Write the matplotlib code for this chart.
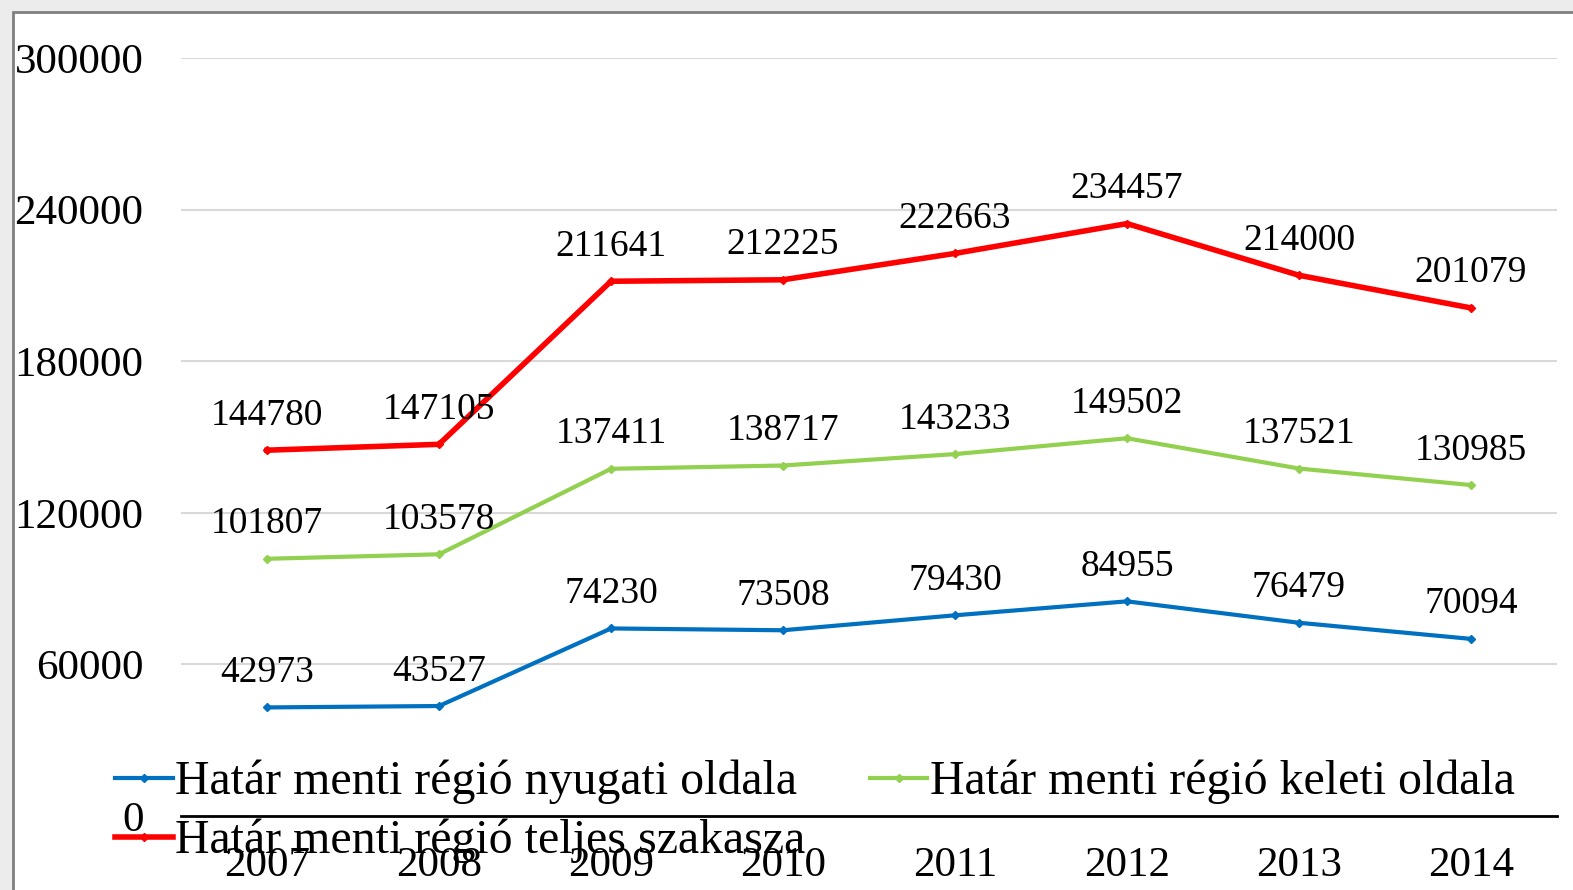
import matplotlib.pyplot as plt
from matplotlib.patches import Rectangle

plt.rcParams['font.family'] = ['Liberation Serif', 'DejaVu Serif']

# --- data ---
years = ['2007', '2008', '2009', '2010', '2011', '2012', '2013', '2014']
nyugati = [42973, 43527, 74230, 73508, 79430, 84955, 76479, 70094]
keleti = [101807, 103578, 137411, 138717, 143233, 149502, 137521, 130985]
teljes = [144780, 147105, 211641, 212225, 222663, 234457, 214000, 201079]

series_names = ['Határ menti régió nyugati oldala',
                'Határ menti régió keleti oldala',
                'Határ menti régió teljes szakasza']
series_values = [nyugati, keleti, teljes]
series_colors = ['#0070C0', '#92D050', '#FF0000']
series_widths = [3, 3, 4]
y_ticks = [0, 60000, 120000, 180000, 240000, 300000]

W, H = 1573, 890
fig = plt.figure(figsize=(W / 100, H / 100), dpi=100, facecolor='#ececec')

# white chart panel with grey frame on top/left
fig.patches.append(Rectangle((13 / W, -0.02), 1.1, 1 - 12 / H + 0.02,
                             transform=fig.transFigure, facecolor='white',
                             edgecolor='#808080', linewidth=2, zorder=-5))

ax = fig.add_axes([181 / W, 1 - 816 / H, (1557 - 181) / W, (816 - 58) / H])
ax.patch.set_visible(False)

x = list(range(len(years)))
for name, vals, col, lw in zip(series_names, series_values, series_colors, series_widths):
    ax.plot(x, vals, color=col, lw=lw, marker='D', markersize=4.5, label=name,
            solid_joinstyle='miter')
    for xi, v in zip(x, vals):
        ax.annotate(str(v), (xi, v), xytext=(0, 25), textcoords='offset points',
                    ha='center', va='center', fontsize=27)

ax.set_xlim(-0.5, len(years) - 0.5)
ax.set_ylim(0, 300000)
ax.set_yticks(y_ticks)
ax.set_yticklabels([str(t) for t in y_ticks])
ax.set_xticks(x)
ax.set_xticklabels(years)
ax.tick_params(axis='y', length=0, pad=27, labelsize=31)
ax.tick_params(axis='x', length=0, pad=22, labelsize=31)
ax.grid(axis='y', color='#d9d9d9', lw=1.5)
ax.set_axisbelow(True)
for s in ['left', 'top', 'right']:
    ax.spines[s].set_visible(False)
ax.spines['bottom'].set_color('black')
ax.spines['bottom'].set_linewidth(2)

handles, labels = ax.get_legend_handles_labels()
# order: row 1 -> nyugati, keleti ; row 2 -> teljes
order = [0, 2, 1]
leg = fig.legend([handles[i] for i in order], [labels[i] for i in order],
                 loc='upper left', bbox_to_anchor=(115 / W, 1 - 760 / H),
                 ncol=2, frameon=False, fontsize=34.5, borderpad=0,
                 handlelength=1.2, handletextpad=0.05, columnspacing=1.35,
                 labelspacing=0.3, borderaxespad=0)

fig.savefig('out.png', dpi=100, facecolor=fig.get_facecolor())
